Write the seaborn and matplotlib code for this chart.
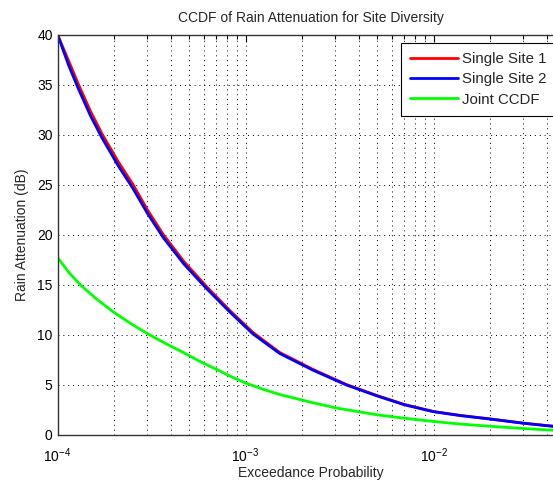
import numpy as np
import pandas as pd
import matplotlib
matplotlib.use("Agg")
import matplotlib.pyplot as plt
import seaborn as sns
from matplotlib.ticker import LogLocator, FixedLocator, NullFormatter

# ---- data ----
prob_single = [1e-4, 1.15e-4, 1.293e-4, 1.5e-4, 1.72e-4, 2.1e-4, 2.52e-4, 3.0e-4, 3.65e-4,
               4.7e-4, 6.2e-4, 8.25e-4, 1.096e-3, 1.52e-3, 2.29e-3, 3.44e-3, 5e-3, 7e-3,
               1e-2, 1.4e-2, 2e-2, 3e-2, 4.4e-2]
site1 = [40.0, 37.3, 35.0, 32.3, 30.1, 27.3, 25.0, 22.5, 20.0,
         17.3, 14.8, 12.4, 10.2, 8.2, 6.5, 5.0, 3.9, 3.0,
         2.3, 1.9, 1.55, 1.13, 0.82]
site2 = [40.0, 36.85, 34.55, 31.85, 29.7, 26.9, 24.6, 22.15, 19.7,
         17.05, 14.6, 12.25, 10.05, 8.1, 6.42, 4.95, 3.86, 2.97,
         2.28, 1.88, 1.55, 1.13, 0.8]
prob_joint = [1e-4, 1.15e-4, 1.318e-4, 1.6e-4, 2e-4, 2.5e-4, 3e-4, 3.8e-4, 4.67e-4, 5.8e-4,
              7.03e-4, 8.25e-4, 1e-3, 1.25e-3, 1.52e-3, 2.2e-3, 3e-3, 5e-3, 7e-3, 1e-2,
              1.38e-2, 2e-2, 3e-2, 4.4e-2]
joint = [17.7, 16.2, 15.0, 13.6, 12.2, 11.0, 10.1, 9.05, 8.2, 7.25,
         6.5, 5.85, 5.15, 4.5, 4.0, 3.25, 2.67, 1.97, 1.63, 1.3,
         1.05, 0.82, 0.6, 0.42]
series_names = ["Single Site 1", "Single Site 2", "Joint CCDF"]
colors = ["#ff0000", "#0000ff", "#00ff00"]
y_ticks = [0, 5, 10, 15, 20, 25, 30, 35, 40]

df = pd.concat([
    pd.DataFrame({"p": prob_single, "A": site1, "s": series_names[0]}),
    pd.DataFrame({"p": prob_single, "A": site2, "s": series_names[1]}),
    pd.DataFrame({"p": prob_joint, "A": joint, "s": series_names[2]}),
])

sns.set_style("white")
plt.rcParams["font.family"] = ["Liberation Sans", "DejaVu Sans"]
plt.rcParams["mathtext.fontset"] = "custom"
plt.rcParams["mathtext.rm"] = "Liberation Sans"

W, H = 553, 482
fig = plt.figure(figsize=(W / 100, H / 100), dpi=100)
left, right, top, bottom = 57.5, 565, 34.5, 434.5
ax = fig.add_axes([left / W, 1 - bottom / H, (right - left) / W, (bottom - top) / H])

sns.lineplot(data=df, x="p", y="A", hue="s", palette=colors, hue_order=series_names,
             linewidth=2.0, ax=ax, sort=False, estimator=None)

ax.set_xscale("log")
ax.set_xlim(1e-4, 5e-2)
ax.set_ylim(0, 40)
ax.yaxis.set_major_locator(FixedLocator(y_ticks))
ax.xaxis.set_major_locator(LogLocator(base=10, numticks=10))
ax.xaxis.set_minor_locator(LogLocator(base=10, subs=np.arange(2, 10), numticks=20))
ax.xaxis.set_minor_formatter(NullFormatter())

dots = (0, (1, 4))
ax.grid(True, which="major", axis="both", color="black", linestyle=dots, linewidth=0.7)
ax.grid(True, which="minor", axis="x", color="black", linestyle=dots, linewidth=0.7)

ax.tick_params(which="both", direction="in", top=True, right=True, labelsize=10, colors="black")
ax.tick_params(which="major", length=5, width=0.8)
ax.tick_params(which="minor", length=3, width=0.8)
ax.tick_params(axis="x", which="major", pad=8.5)
for sp in ax.spines.values():
    sp.set_color("#333333")
    sp.set_linewidth(1.0)

ax.set_title("CCDF of Rain Attenuation for Site Diversity", fontsize=10, pad=9)
ax.set_xlabel("Exceedance Probability", fontsize=10, labelpad=1)
ax.set_ylabel("Rain Attenuation (dB)", fontsize=10, labelpad=6)

handles, labels = ax.get_legend_handles_labels()
leg = ax.legend(handles, labels, loc="upper left", bbox_to_anchor=(401 / W, 1 - 43 / H),
                bbox_transform=fig.transFigure, borderaxespad=0, fontsize=10.8,
                handlelength=3.2, handletextpad=0.25, labelspacing=0.42,
                fancybox=False, framealpha=1, edgecolor="black", borderpad=0.6)
leg.get_frame().set_linewidth(0.8)

fig.savefig("out.png", dpi=100)
